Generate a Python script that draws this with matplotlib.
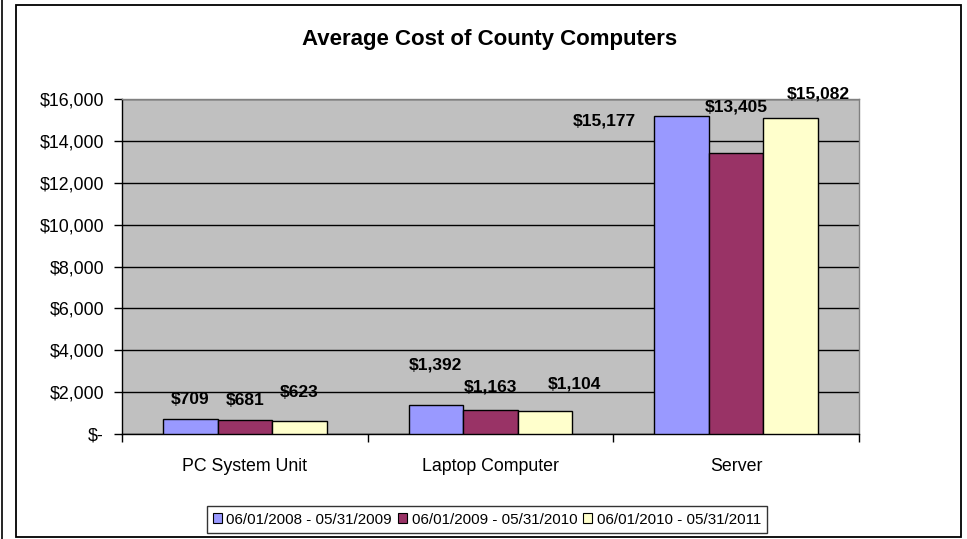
import matplotlib
matplotlib.use("Agg")
import matplotlib.pyplot as plt
from matplotlib.patches import Rectangle
from matplotlib.lines import Line2D
import numpy as np

plt.rcParams['font.family'] = ['Liberation Sans', 'DejaVu Sans']

categories = ["PC System Unit", "Laptop Computer", "Server"]
periods = ["06/01/2008 - 05/31/2009", "06/01/2009 - 05/31/2010", "06/01/2010 - 05/31/2011"]
values = {
    periods[0]: [709, 1392, 15177],
    periods[1]: [681, 1163, 13405],
    periods[2]: [623, 1104, 15082],
}
colors = ["#9999FF", "#993366", "#FFFFCC"]
yticks = [0, 2000, 4000, 6000, 8000, 10000, 12000, 14000, 16000]
ytick_labels = ["$-", "$2,000", "$4,000", "$6,000", "$8,000", "$10,000", "$12,000", "$14,000", "$16,000"]

# hand-placed label offsets (pixels) relative to each bar's top centre
label_offsets = [
    [(0, 20), (0, 40), (-77, -5)],
    [(0, 19), (0, 23), (0, 46)],
    [(0, 28), (29, 27), (28, 24)],
]

W, H = 967, 539
fig = plt.figure(figsize=(W / 100, H / 100), dpi=100)

# outer chart frame and the separator line on the far left
fig.add_artist(Rectangle((16 / W, 1 - 537 / H), (961 - 16) / W, (537 - 5) / H,
                         transform=fig.transFigure, fill=False, edgecolor="black", linewidth=1.3))
fig.add_artist(Line2D([2 / W, 2 / W], [0, 1], transform=fig.transFigure, color="black", linewidth=1.2))

left, right, top, bottom = 122, 859, 99, 434
ax = fig.add_axes([left / W, 1 - bottom / H, (right - left) / W, (bottom - top) / H])
ax.set_facecolor("#C0C0C0")

x = np.arange(len(categories))
bw = 1 / 4.5
for i, p in enumerate(periods):
    pos = x - bw + i * bw
    bars = ax.bar(pos, values[p], width=bw, color=colors[i], edgecolor="black", linewidth=1.0, zorder=3)
    for j, b in enumerate(bars):
        dx, dy = label_offsets[i][j]
        ax.annotate(f"${values[p][j]:,}", (b.get_x() + b.get_width() / 2, b.get_height()),
                    xytext=(dx, dy), textcoords="offset pixels", ha="center", va="center",
                    fontsize=12.5, fontweight="bold", zorder=5)

ax.set_xlim(-0.5, len(categories) - 0.5)
ax.set_ylim(0, 16000)
ax.set_yticks(yticks)
ax.set_yticklabels(ytick_labels, fontsize=12.8)
ax.yaxis.grid(True, color="black", linewidth=1.0, zorder=1)
ax.set_axisbelow(True)

ax.set_xticks(x)
ax.set_xticklabels(categories, fontsize=12.8)
ax.tick_params(axis="x", length=0, pad=17)
ax.set_xticks(np.arange(len(categories) + 1) - 0.5, minor=True)
ax.tick_params(axis="x", which="minor", length=6, width=1, color="black", direction="out")
ax.tick_params(axis="y", length=6, width=1, direction="out", pad=7)

for s in ["top", "right"]:
    ax.spines[s].set_color("#808080")
    ax.spines[s].set_linewidth(1.0)
for s in ["left", "bottom"]:
    ax.spines[s].set_color("black")
    ax.spines[s].set_linewidth(1.0)

fig.text(490 / W, 1 - 40 / H, "Average Cost of County Computers", ha="center", va="center",
         fontsize=16, fontweight="bold")

handles = [Rectangle((0, 0), 1, 1, facecolor=c, edgecolor="black", linewidth=0.8) for c in colors]
leg = fig.legend(handles, periods, loc="center", bbox_to_anchor=(487 / W, 1 - 519.5 / H), ncol=3,
                 fontsize=10.9, frameon=True, fancybox=False, edgecolor="black",
                 handlelength=0.6, handleheight=0.6, handletextpad=0.3, columnspacing=0.4,
                 borderpad=0.4)
leg.get_frame().set_linewidth(1.0)

fig.savefig("out.png", dpi=100)
